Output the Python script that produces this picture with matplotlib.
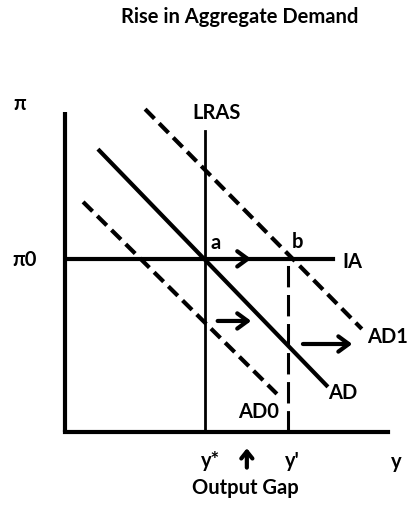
import matplotlib.pyplot as plt

plt.rcParams['font.family'] = ['Lato', 'DejaVu Sans']
plt.rcParams['font.weight'] = 'bold'

# diagram values (output on x, inflation on y)
y_star = 4.33
y_prime = 6.9
pi0 = 5.41
lras_top = 9.4
ia_end = 8.3

ad_x = [1.02, 8.14]
ad_y = [8.84, 1.41]
ad1_x = [2.48, 9.19]
ad1_y = [10.09, 3.22]
ad0_x = [0.56, 6.56]
ad0_y = [7.19, 1.19]

# shift arrows: (x start, x end, y)
shift_arrows = [(5.33, 5.85, 5.41), (4.64, 5.85, 3.47), (7.28, 8.98, 2.75)]
gap_arrow_x = 5.63
gap_arrow_y = [-1.2, -0.42]

fig = plt.figure(figsize=(4.14, 5.06), dpi=100)
ax = fig.add_axes([65 / 414, 73 / 506, 323 / 414, 320 / 506])
ax.set_xlim(0, 10)
ax.set_ylim(0, 10)
for s in ['top', 'right']:
    ax.spines[s].set_visible(False)
ax.spines['left'].set_linewidth(3)
ax.spines['bottom'].set_linewidth(3)
ax.spines['left'].set_capstyle('butt')
ax.set_xticks([])
ax.set_yticks([])

# LRAS and IA
ax.plot([y_star, y_star], [0, lras_top], color='black', lw=2)
ax.plot([0, ia_end], [pi0, pi0], color='black', lw=3)
ax.plot([y_prime, y_prime], [0, pi0], color='black', lw=2.2, dashes=(7, 2.5))

# AD curves
ax.plot(ad_x, ad_y, color='black', lw=3, solid_capstyle='butt')
ax.plot(ad1_x, ad1_y, color='black', lw=3, dashes=(3.2, 1.6), clip_on=False)
ax.plot(ad0_x, ad0_y, color='black', lw=3, dashes=(3.2, 1.6))

for x0, x1, yy in shift_arrows:
    ax.annotate('', xy=(x1, yy), xytext=(x0, yy),
                arrowprops=dict(arrowstyle='->,head_length=0.75,head_width=0.55',
                                color='black', lw=3))
ax.annotate('', xy=(gap_arrow_x, gap_arrow_y[1]), xytext=(gap_arrow_x, gap_arrow_y[0]),
            xycoords='data', annotation_clip=False,
            arrowprops=dict(arrowstyle='->,head_length=0.5,head_width=0.4',
                            color='black', lw=3))

fs = 14.5
kw = dict(fontsize=fs, fontweight='bold', ha='center', va='center', clip_on=False)
ax.text(-1.39, 10.28, 'π', **kw)
ax.text(-1.25, pi0, 'π0', **kw)
ax.text(y_star + 0.35, 10.0, 'LRAS', **kw)
ax.text(4.4 + 0.25, 5.95, 'a', **kw)
ax.text(7.2, 5.98, 'b', **kw)
ax.text(8.9, 5.35, 'IA', **kw)
ax.text(10.0, 3.0, 'AD1', **kw)
ax.text(8.6, 1.25, 'AD', **kw)
ax.text(6.0, 0.65, 'AD0', **kw)
ax.text(4.5, -0.88, 'y*', **kw)
ax.text(7.05, -0.88, "y'", **kw)
ax.text(10.27, -0.9, 'y', **kw)
ax.text(5.57, -1.73, 'Output Gap', **kw)

fig.text(240 / 414, 1 - 17 / 506, 'Rise in Aggregate Demand', fontsize=fs,
         fontweight='bold', ha='center', va='center')

fig.savefig('out.png', dpi=100, facecolor='white')
